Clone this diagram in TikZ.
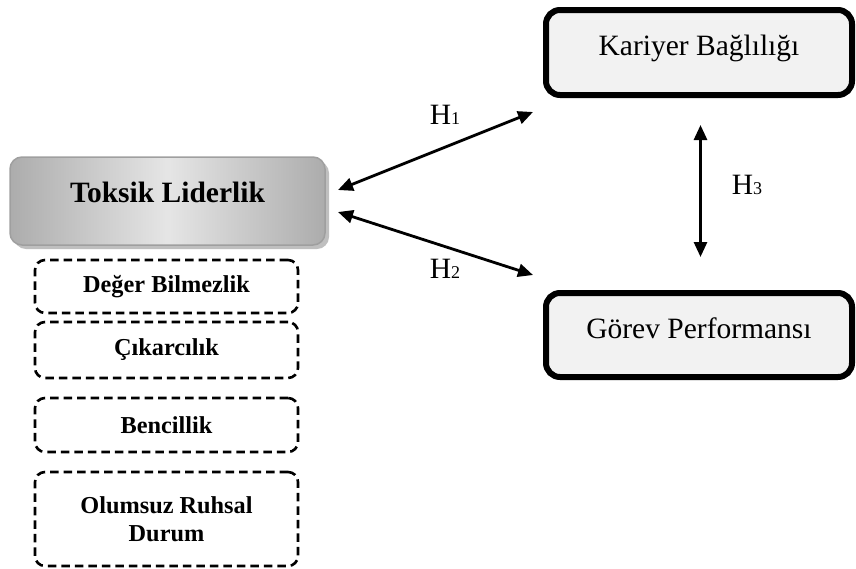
\documentclass[tikz,border=0pt]{standalone}
\usepackage{fontspec}
\setmainfont{Liberation Serif}
\usetikzlibrary{arrows.meta,shadows}
\begin{document}
\begin{tikzpicture}[x=1pt,y=-1pt,
  bigtxt/.style={font=\fontsize{29.5}{34}\selectfont},
  smalltxt/.style={font=\fontsize{24.3}{28}\selectfont\bfseries},
  solidbox/.style={bigtxt, draw=black, line width=6pt, rounded corners=14pt,
    fill=gray!10, minimum width=306pt, inner sep=0pt,
    text height=20pt, text depth=14pt},
  mainbox/.style={font=\fontsize{29.5}{34}\selectfont\bfseries,
    draw=gray!75, line width=1.5pt, rounded corners=12pt,
    left color=gray!65, right color=gray!65, middle color=gray!20,
    drop shadow={shadow xshift=4pt, shadow yshift=-4pt, fill=gray!50, opacity=1},
    minimum width=315pt, minimum height=88pt, inner sep=0pt,
    text height=20pt, text depth=17pt},
  dimbox/.style={smalltxt, draw=black, line width=2.6pt, dash pattern=on 8.5pt off 5pt,
    rounded corners=10pt, minimum width=263pt, inner sep=0pt, align=center},
  link/.style={line width=2.8pt, {Triangle[length=15pt,width=13pt]}-{Triangle[length=15pt,width=13pt]}},
  hlab/.style={bigtxt, inner sep=0pt}
]
\useasboundingbox (0,0) rectangle (856,568);

\node[solidbox, minimum height=85pt] (kb) at (699,52.5) {Kariyer Bağlılığı};
\node[solidbox, minimum height=84pt] (gp) at (699,335) {Görev Performansı};
\node[mainbox] (tl) at (167.5,201) {Toksik Liderlik};

\node[dimbox, minimum height=53pt] (d1) at (166.5,286.5) {Değer Bilmezlik};
\node[dimbox, minimum height=56pt] (d2) at (166.5,350) {Çıkarcılık};
\node[dimbox, minimum height=54pt] (d3) at (166.5,425) {Bencillik};
\node[dimbox, minimum height=94pt] (d4) at (166.5,519) {Olumsuz Ruhsal\\Durum};

\coordinate (a1) at (338,190);
\coordinate (b1) at (533,112);
\coordinate (a2) at (338,212);
\coordinate (b2) at (533,275);
\coordinate (a3) at (700.5,125);
\coordinate (b3) at (700.5,257);

\draw[link] (a1) -- (b1);
\draw[link] (a2) -- (b2);
\draw[link] (a3) -- (b3);

\node[hlab] (h1) at (445,114.5) {H{\fontsize{18}{20}\selectfont 1}};
\node[hlab] (h2) at (445,269) {H{\fontsize{18}{20}\selectfont 2}};
\node[hlab] (h3) at (747,185) {H{\fontsize{18}{20}\selectfont 3}};
\end{tikzpicture}
\end{document}
